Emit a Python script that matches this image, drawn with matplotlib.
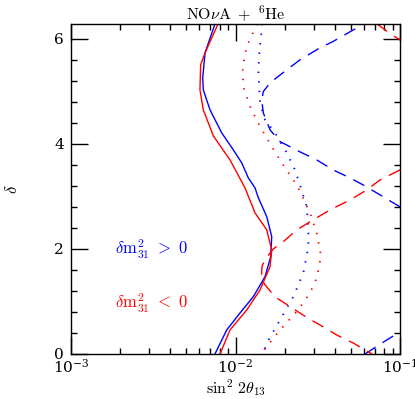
import numpy as np
import matplotlib
matplotlib.use("Agg")
import matplotlib.pyplot as plt
from matplotlib.ticker import LogLocator, MultipleLocator, NullFormatter

plt.rcParams['mathtext.fontset'] = 'cm'
plt.rcParams['font.family'] = 'serif'
plt.rcParams['font.serif'] = ['DejaVu Serif']

# solid curves
blue_sol_x = [7.5e-3, 6.53e-3, 6.32e-3, 6.37e-3, 7.0e-3, 8.24e-3, 9.7e-3, 1.091e-2, 1.196e-2,
              1.314e-2, 1.37e-2, 1.548e-2, 1.66e-2, 1.637e-2, 1.511e-2, 1.283e-2, 1.065e-2,
              8.84e-3, 7.5e-3]
blue_sol_d = [6.283, 5.733, 5.257, 5.029, 4.648, 4.21, 3.886, 3.638, 3.352,
              3.162, 2.99, 2.615, 2.234, 1.853, 1.472, 1.091, 0.781, 0.457, 0.0]
red_sol_x = [7.83e-3, 6.53e-3, 6.14e-3, 6.08e-3, 6.37e-3, 7.33e-3, 9.26e-3, 1.142e-2, 1.314e-2,
             1.548e-2, 1.66e-2, 1.621e-2, 1.409e-2, 1.17e-2, 9.26e-3, 8.05e-3]
red_sol_d = [6.283, 5.733, 5.505, 5.029, 4.648, 4.152, 3.695, 3.162, 2.686,
             2.362, 1.981, 1.663, 1.219, 0.838, 0.457, 0.0]

# dotted curves
blue_dot_x = [1.455e-2, 1.396e-2, 1.376e-2, 1.409e-2, 1.511e-2, 1.739e-2, 2.048e-2, 2.3e-2,
              2.466e-2, 2.709e-2, 2.771e-2, 2.771e-2, 2.584e-2, 2.246e-2, 1.864e-2, 1.548e-2, 1.476e-2]
blue_dot_d = [6.283, 5.733, 5.41, 4.781, 4.457, 4.21, 3.829, 3.505,
              3.219, 2.806, 2.362, 2.044, 1.543, 1.091, 0.648, 0.21, 0.0]
red_dot_x = [1.351e-2, 1.17e-2, 1.106e-2, 1.115e-2, 1.225e-2, 1.409e-2, 1.66e-2, 1.909e-2,
             2.355e-2, 2.838e-2, 3.116e-2, 3.309e-2, 3.116e-2, 2.838e-2, 2.4e-2, 1.864e-2,
             1.548e-2, 1.409e-2]
red_dot_d = [6.283, 5.853, 5.472, 5.091, 4.71, 4.33, 3.949, 3.638,
             3.219, 2.686, 2.299, 1.867, 1.448, 1.162, 0.838, 0.457, 0.139, 0.0]

# dashed curves
blue_dash_x = [0.1, 7.556e-2, 5.961e-2, 4.966e-2, 3.914e-2, 3.116e-2, 2.466e-2, 1.864e-2,
               1.621e-2, 1.476e-2, 1.443e-2, 1.476e-2, 1.621e-2, 2.048e-2, 2.466e-2, 3.263e-2,
               3.914e-2, 5.478e-2, 5.794e-2]
blue_dash_d = [2.8, 3.029, 3.219, 3.352, 3.505, 3.695, 3.848, 4.044,
               4.267, 4.59, 4.838, 4.996, 5.162, 5.41, 5.6, 5.829,
               5.949, 6.21, 6.283]
blue_dash2_x = [6.127e-2, 8.3e-2, 0.1]
blue_dash2_d = [0.0, 0.267, 0.42]
red_dash_x = [0.1, 7.556e-2, 6.277e-2, 4.966e-2, 3.753e-2, 2.958e-2, 2.355e-2, 1.953e-2,
              1.697e-2, 1.53e-2, 1.45e-2, 1.44e-2, 1.5e-2, 1.739e-2, 2.196e-2, 2.683e-2,
              3.263e-2, 4.123e-2, 5.18e-2, 6.76e-2]
red_dash_d = [3.505, 3.314, 3.124, 2.933, 2.743, 2.552, 2.362, 2.139,
              2.0, 1.82, 1.68, 1.52, 1.33, 1.086, 0.882, 0.705,
              0.552, 0.362, 0.21, 0.0]
red_dash2_x = [7.246e-2, 8.903e-2, 0.1]
red_dash2_d = [6.283, 6.076, 5.981]

fig = plt.figure(figsize=(4.15, 3.99), dpi=100)
ax = fig.add_axes([0.171, 0.1128, 0.793, 0.8272])

ax.plot(blue_sol_x, blue_sol_d, color='blue', lw=1.0)
ax.plot(red_sol_x, red_sol_d, color='red', lw=1.0)
ax.plot(blue_dot_x, blue_dot_d, color='blue', lw=1.3, ls=(0, (0.8, 4.5)))
ax.plot(red_dot_x, red_dot_d, color='red', lw=1.3, ls=(0, (0.8, 4.5)))
ax.plot(blue_dash_x, blue_dash_d, color='blue', lw=1.0, ls=(0, (9, 6)))
ax.plot(blue_dash2_x, blue_dash2_d, color='blue', lw=1.0, ls=(0, (9, 6)))
ax.plot(red_dash_x, red_dash_d, color='red', lw=1.0, ls=(0, (9, 6)))
ax.plot(red_dash2_x, red_dash2_d, color='red', lw=1.0, ls=(0, (9, 6)))

ax.set_xscale('log')
ax.set_xlim(1e-3, 1e-1)
ax.set_ylim(0, 2 * np.pi)
ax.yaxis.set_major_locator(MultipleLocator(2))
ax.yaxis.set_minor_locator(MultipleLocator(0.4))
ax.xaxis.set_minor_locator(LogLocator(base=10, subs=np.arange(2, 10)))
ax.xaxis.set_minor_formatter(NullFormatter())
ax.tick_params(which='both', direction='in', top=True, right=True, labelsize=11)
ax.tick_params(which='major', length=12, width=1.0)
ax.tick_params(axis='x', which='major', pad=3)
ax.tick_params(axis='y', which='major', pad=5)
ax.tick_params(which='minor', length=4.5, width=1.0)
for s in ax.spines.values():
    s.set_linewidth(1.0)

ax.set_title(r'$\mathrm{NO}\nu\mathrm{A}\ +\ {}^{6}\mathrm{He}$', fontsize=11.5, pad=3)
ax.set_xlabel(r'$\sin^2\,2\theta_{13}$', fontsize=11.5, labelpad=1)
ax.set_ylabel(r'$\delta$', fontsize=12, labelpad=24)

ax.text(1.85e-3, 1.98, r'$\delta\mathrm{m}^2_{31}\ >\ 0$', color='blue', fontsize=12, va='center')
ax.text(1.85e-3, 0.97, r'$\delta\mathrm{m}^2_{31}\ <\ 0$', color='red', fontsize=12, va='center')

fig.savefig('out.png', dpi=100)
